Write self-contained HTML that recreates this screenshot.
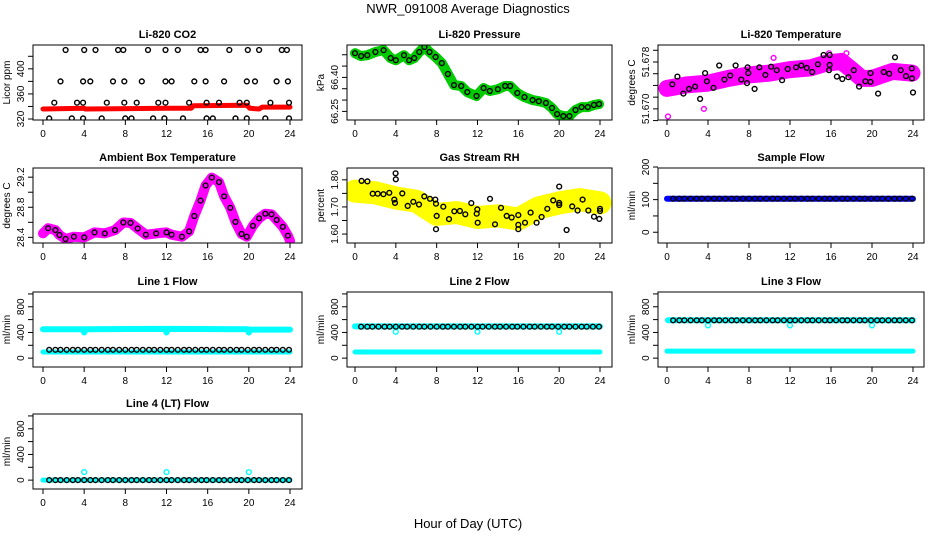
<!DOCTYPE html>
<html><head><meta charset="utf-8"><title>NWR_091008 Average Diagnostics</title>
<style>
html,body{margin:0;padding:0;background:#fff;}
svg{display:block;font-family:"Liberation Sans",Arial,sans-serif;}
</style></head>
<body>
<svg id="chart" width="936" height="540" viewBox="0 0 936 540" xmlns="http://www.w3.org/2000/svg">
<rect width="936" height="540" fill="#fff"/>
<text x="468" y="13" text-anchor="middle" font-size="13">NWR_091008  Average Diagnostics</text>
<text x="468" y="528" text-anchor="middle" font-size="13">Hour of Day (UTC)</text>
</svg>
<script>
// ---------- data ----------
const xTicks = [0,4,8,12,16,20,24];
const flowHours = [0.6,1.2,1.7,2.3,2.9,3.4,4.0,4.6,5.1,5.7,6.3,6.8,7.4,8.0,8.6,9.1,9.7,10.3,10.8,11.4,12.0,12.5,13.1,13.7,14.2,14.8,15.4,15.9,16.5,17.1,17.6,18.2,18.8,19.3,19.9,20.5,21.0,21.6,22.2,22.7,23.3,23.9];

// CO2
const co2Hours = [2.2,4.0,5.1,7.3,7.8,10.2,11.9,13.1,15.3,15.8,18.1,19.9,21.0,23.2,23.7,
 1.7,3.9,4.6,6.8,7.9,9.6,11.9,12.5,14.7,15.8,17.6,19.8,20.6,22.7,23.8,
 1.1,3.3,3.9,6.2,7.9,9.1,11.2,11.9,14.2,15.9,17.1,19.1,19.8,22.1,23.9,
 0.6,2.8,3.9,5.7,8.0,8.6,10.7,11.8,13.6,15.9,16.5,18.7,19.8,21.6,23.9];
const co2Vals = [430,430,430,430,430,430,430,430,430,430,430,430,430,430,430,
 380,380,380,380,380,380,380,380,380,380,380,380,380,380,380,
 346,346,346,346,346,346,346,346,346,346,346,346,346,346,346,
 321,321,321,321,321,321,321,321,321,321,321,321,321,321,321];
const co2LineHours = [0,4,4.1,12,14.4,14.6,19.8,20.1,21,21.3,24];
const co2LineVals = [336,337,336,337,337,341,342,337,336,339,339];

// Pressure
const presHours = [0,0.6,1.2,2,2.8,3.5,4,4.8,5.3,5.8,6.3,6.8,7.3,7.9,8.5,9.1,9.7,10.4,11,11.9,12.6,13.2,14,14.7,15.2,15.9,16.6,17.4,18,18.7,19.3,19.8,20.4,21,21.6,22.2,22.8,23.4,23.9];
const presVals = [66.507,66.494,66.498,66.512,66.520,66.485,66.476,66.498,66.476,66.485,66.512,66.534,66.512,66.490,66.463,66.415,66.366,66.362,66.335,66.318,66.353,66.340,66.348,66.362,66.362,66.331,66.313,66.300,66.295,66.287,66.265,66.238,66.229,66.229,66.256,66.269,66.269,66.278,66.282];

// Li-820 temperature
const tempBandHours = [0,2,4,6,8,10,12,14,15.5,17,18,19,20,22,23.9];
const tempBandVals = [51.6735,51.6741,51.6744,51.6752,51.6758,51.6761,51.6767,51.6770,51.6778,51.6781,51.6767,51.6752,51.6752,51.6764,51.6761];
const tempOutHours = [0.1,3.6,10.4,15.8,17.5];
const tempOutVals = [51.6687,51.6700,51.6787,51.6795,51.6795];
const tempHours = [0.52,1.01,1.6,2.15,2.74,3.23,3.72,3.89,4.54,5.09,5.6,6.17,6.69,7.25,7.8,7.86,7.93,8.55,9.01,9.6,10.16,10.7,11.23,11.78,12.6,13.1,13.64,14.17,14.72,15.28,15.87,15.8,15.87,16.58,17.1,17.7,18.22,18.74,19.36,19.85,19.85,20.6,21.15,21.68,22.24,22.8,23.32,23.88,23.9,24.0];
const tempVals = [51.6742,51.6755,51.6726,51.6734,51.6738,51.6717,51.6761,51.6747,51.6736,51.6774,51.6750,51.6757,51.6774,51.6750,51.6744,51.6771,51.6761,51.6734,51.6771,51.6758,51.6772,51.6766,51.6749,51.6768,51.6771,51.6774,51.6770,51.6763,51.6776,51.6792,51.6792,51.6766,51.6775,51.6755,51.6751,51.6754,51.6766,51.6738,51.6747,51.6761,51.6746,51.6726,51.6763,51.6760,51.6788,51.6766,51.6756,51.6769,51.6752,51.6728];

// Ambient box temperature
const ambHours = [0,0.5,1.2,1.6,2.2,3,4,5,6,7,7.8,8.5,9.2,10,11,12,12.5,13.5,14.2,14.7,15.3,15.8,16.4,17.1,17.6,18.2,18.7,19.3,19.8,20.4,21,21.6,22.2,22.7,23.3,23.8,24];
const ambVals = [28.452,28.522,28.496,28.431,28.378,28.409,28.40,28.466,28.452,28.496,28.597,28.592,28.518,28.435,28.452,28.466,28.435,28.409,28.479,28.684,28.889,29.09,29.195,29.134,28.946,28.793,28.605,28.444,28.409,28.553,28.653,28.715,28.706,28.632,28.54,28.422,28.356];

// Gas stream RH
const rhBandHours = [0,2,4,6,8,10,12,14,16,18,20,22,24];
const rhBandVals = [1.758,1.752,1.733,1.721,1.673,1.679,1.661,1.667,1.655,1.697,1.715,1.727,1.715];
const rhHours = [0.65,1.21,1.73,2.22,2.78,3.36,3.85,3.92,3.98,4.0,4.63,5.16,5.71,6.27,6.79,7.35,7.87,7.93,8.0,7.93,8.65,9.21,9.73,10.28,10.8,11.39,11.92,11.98,12.02,13.22,13.71,14.3,14.86,15.35,16.0,16.0,16.0,16.65,17.2,17.79,18.28,18.84,19.42,20.0,20.0,20.0,20.73,21.28,21.81,22.3,22.85,23.41,23.93,24.0,24.0];
const rhVals = [1.796,1.794,1.749,1.749,1.747,1.752,1.727,1.715,1.824,1.802,1.750,1.704,1.719,1.709,1.739,1.730,1.727,1.712,1.667,1.618,1.701,1.655,1.684,1.685,1.673,1.714,1.675,1.691,1.642,1.730,1.636,1.697,1.667,1.661,1.670,1.634,1.618,1.642,1.679,1.642,1.663,1.693,1.724,1.715,1.707,1.775,1.615,1.702,1.687,1.727,1.687,1.664,1.656,1.693,1.685];

// Sample flow
const sampleLineHours = [0,24];
const sampleLineVals = [103,103];
const sampleVals = [103,103,103,103,103,103,103,103,103,103,103,103,103,103,103,103,103,103,103,103,103,103,103,103,103,103,103,103,103,103,103,103,103,103,103,103,103,103,103,103,103,103];

// Line flows
const line1UpHours = [0,3.9,4.0,4.1,11.9,12,12.1,19.9,20,20.1,24];
const line1UpVals = [450,450,400,450,455,400,455,450,400,445,445];
const line1LowHours = [0,24];
const line1LowVals = [95,95];
const line1Black = [130,130,130,130,130,130,130,130,130,130,130,130,130,130,130,130,130,130,130,130,130,130,130,130,130,130,130,130,130,130,130,130,130,130,130,130,130,130,130,130,130,130];

const line2UpHours = [0,24];
const line2UpVals = [495,495];
const line2LowHours = [0,24];
const line2LowVals = [95,95];
const line2OutHours = [4,12,20];
const line2OutVals = [410,410,410];
const line2Black = [490,490,490,490,490,490,490,490,490,490,490,490,490,490,490,490,490,490,490,490,490,490,490,490,490,490,490,490,490,490,490,490,490,490,490,490,490,490,490,490,490,490];

const line3UpHours = [0.1,24];
const line3UpVals = [590,590];
const line3LowHours = [0,24];
const line3LowVals = [110,110];
const line3OutHours = [4,12,20];
const line3OutVals = [510,510,510];
const line3Black = [590,590,590,590,590,590,590,590,590,590,590,590,590,590,590,590,590,590,590,590,590,590,590,590,590,590,590,590,590,590,590,590,590,590,590,590,590,590,590,590,590,590];

const line4LineHours = [0,24];
const line4LineVals = [0,0];
const line4OutHours = [4,12,20];
const line4OutVals = [125,125,125];
const line4Black = [0,0,0,0,0,0,0,0,0,0,0,0,0,0,0,0,0,0,0,0,0,0,0,0,0,0,0,0,0,0,0,0,0,0,0,0,0,0,0,0,0,0];

// ---------- drawing ----------
const NS = 'http://www.w3.org/2000/svg';
const svg = document.getElementById('chart');
const cols = [{l:33,r:302,h0:43,h24:290},{l:347,r:612,h0:355,h24:600},{l:658,r:924,h0:667,h24:913}];
const rows = [45,168,292,414];
const PH = 75;

function mk(tag, attrs, parent){
  const e = document.createElementNS(NS, tag);
  for (const k in attrs) e.setAttribute(k, attrs[k]);
  (parent||svg).appendChild(e);
  return e;
}

const ylabFmt = {
  pressure: v => v.toFixed(2),
  temp: v => v.toFixed(3),
  ambient: v => v.toFixed(1),
  rh: v => v.toFixed(2)
};

function panel(row, col, title, ylab, ymin, ymax, yTicks, yLabels, name){
  const c = cols[col], top = rows[row], bot = top + PH;
  const g = mk('g', {});
  
  
  const sx = h => c.h0 + (h/24)*(c.h24 - c.h0);
  const sy = v => bot - (v - ymin)/(ymax - ymin)*PH;
  const clipId = 'clip-' + name;
  const cp = mk('clipPath', {id:clipId}, g);
  mk('rect', {x:c.l, y:top, width:c.r-c.l, height:PH}, cp);
  const plot = mk('g', {'clip-path':`url(#${clipId})`}, g);
  const box = mk('rect', {x:c.l, y:top, width:c.r-c.l, height:PH, fill:'none', stroke:'#000', 'stroke-width':1}, g);
  
  
  const t = mk('text', {x:(c.l+c.r)/2, y:top-7, 'text-anchor':'middle', 'font-size':11, 'font-weight':'bold'}, g);
  t.textContent = title;
  
  
  const xa = mk('g', {}, g);
  
  
  xTicks.forEach(h => {
    const x = sx(h);
    mk('line', {x1:x, x2:x, y1:bot, y2:bot+5, stroke:'#000'}, xa);
    const lb = mk('text', {x:x, y:bot+17, 'text-anchor':'middle', 'font-size':10}, xa);
    lb.textContent = h;
    
    
  });
  const ya = mk('g', {}, g);
  
  
  yTicks.forEach(v => {
    const y = sy(v);
    mk('line', {x1:c.l, x2:c.l-5, y1:y, y2:y, stroke:'#000'}, ya);
  });
  yLabels.forEach(v => {
    const y = sy(v);
    const lb = mk('text', {x:0, y:0, 'text-anchor':'middle', 'font-size':10, transform:`translate(${c.l-9},${y}) rotate(-90)`}, ya);
    lb.textContent = ylabFmt[name] ? ylabFmt[name](v) : v;
    
    
  });
  const yt = mk('text', {x:0, y:0, 'text-anchor':'middle', 'font-size':10, transform:`translate(${c.l-23},${(top+bot)/2}) rotate(-90)`}, g);
  yt.textContent = ylab;
  
  
  return {sx, sy, plot};
}

function band(p, hours, vals, color, width, name){
  const pts = hours.map((h,i) => p.sx(h).toFixed(1) + ',' + p.sy(vals[i]).toFixed(1)).join(' ');
  const pl = mk('polyline', {points:pts, fill:'none', stroke:color, 'stroke-width':width, 'stroke-linejoin':'round', 'stroke-linecap':'round'}, p.plot);
  
  
}
function pts(p, hours, vals, color, name){
  const g = mk('g', {}, p.plot);
  
  
  hours.forEach((h,i) => {
    const c = mk('circle', {cx:p.sx(h).toFixed(1), cy:p.sy(vals[i]).toFixed(1), r:2.4, fill:'none', stroke:color, 'stroke-width':1.4}, g);
    
    
  });
}

let p = panel(0,0,'Li-820 CO2','Licor ppm',318.4,438,[320,340,360,380,400,420],[320,360,400],'co2');
band(p, co2LineHours, co2LineVals, '#ff0000', 5, 'co2-red-series');
pts(p, co2Hours, co2Vals, '#000', 'co2-black-points');

p = panel(0,1,'Li-820 Pressure','kPa',66.212,66.543,[66.25,66.30,66.35,66.40,66.45,66.50],[66.25,66.40],'pressure');
band(p, presHours, presVals, '#00cc00', 10, 'pressure-green-series');
pts(p, presHours, presVals, '#000', 'pressure-black-points');

p = panel(0,2,'Li-820 Temperature','degrees C',51.6681,51.6809,[51.668,51.670,51.672,51.674,51.676,51.678,51.680],[51.670,51.678],'temp');
band(p, tempBandHours, tempBandVals, '#ff00ff', 17, 'temp-magenta-series');
pts(p, tempOutHours, tempOutVals, '#ff00ff', 'temp-magenta-outliers');
pts(p, tempHours, tempVals, '#000', 'temp-black-points');

p = panel(1,0,'Ambient Box Temperature','degrees C',28.325,29.322,[28.4,28.6,28.8,29.0,29.2],[28.4,28.8,29.2],'ambient');
band(p, ambHours, ambVals, '#ff00ff', 10, 'ambient-magenta-series');
pts(p, ambHours.slice(1,-1), ambVals.slice(1,-1), '#000', 'ambient-black-points');

p = panel(1,1,'Gas Stream RH','percent',1.567,1.8436,[1.60,1.65,1.70,1.75,1.80],[1.60,1.70,1.80],'rh');
band(p, rhBandHours, rhBandVals, '#ffff00', 23, 'rh-yellow-series');
pts(p, rhHours, rhVals, '#000', 'rh-black-points');

p = panel(1,2,'Sample Flow','ml/min',-33,197,[0,50,100,150,200],[0,100,200],'sample');
band(p, sampleLineHours, sampleLineVals, '#0000ff', 6, 'sample-blue-series');
pts(p, flowHours, sampleVals, '#000', 'sample-black-points');

const lyT = [0,200,400,600,800,1000], lyL = [0,400,800];
p = panel(2,0,'Line 1 Flow','ml/min',-138,1030,lyT,lyL,'line1');
band(p, line1UpHours, line1UpVals, '#00ffff', 6, 'line1-cyan-upper');
band(p, line1LowHours, line1LowVals, '#00ffff', 5, 'line1-cyan-lower');
pts(p, flowHours, line1Black, '#000', 'line1-black-points');

p = panel(2,1,'Line 2 Flow','ml/min',-138,1030,lyT,lyL,'line2');
band(p, line2UpHours, line2UpVals, '#00ffff', 6, 'line2-cyan-upper');
band(p, line2LowHours, line2LowVals, '#00ffff', 5, 'line2-cyan-lower');
pts(p, line2OutHours, line2OutVals, '#00ffff', 'line2-cyan-outliers');
pts(p, flowHours, line2Black, '#000', 'line2-black-points');

p = panel(2,2,'Line 3 Flow','ml/min',-138,1030,lyT,lyL,'line3');
band(p, line3UpHours, line3UpVals, '#00ffff', 6, 'line3-cyan-upper');
band(p, line3LowHours, line3LowVals, '#00ffff', 5, 'line3-cyan-lower');
pts(p, line3OutHours, line3OutVals, '#00ffff', 'line3-cyan-outliers');
pts(p, flowHours, line3Black, '#000', 'line3-black-points');

p = panel(3,0,'Line 4 (LT) Flow','ml/min',-138,1030,lyT,lyL,'line4');
band(p, line4LineHours, line4LineVals, '#00ffff', 5, 'line4-cyan-series');
pts(p, line4OutHours, line4OutVals, '#00ffff', 'line4-cyan-outliers');
pts(p, flowHours, line4Black, '#000', 'line4-black-points');
</script>
</body></html>
